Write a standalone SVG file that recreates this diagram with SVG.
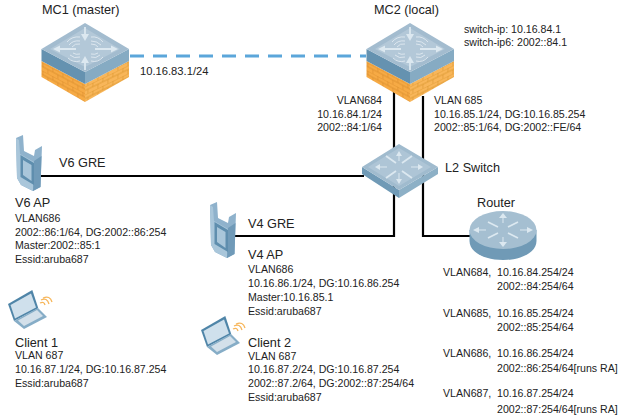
<svg xmlns="http://www.w3.org/2000/svg" width="624" height="419" viewBox="0 0 624 419">
<style>
text{font-family:"Liberation Sans",Arial,sans-serif;fill:#222}
.s{font-size:10.6px}
.t{font-size:12.7px}
.m{font-size:11.2px}
.e{text-anchor:end}
.lk{fill:none;stroke:#000;stroke-width:2.2}
.dash{fill:none;stroke:#5ba6da;stroke-width:3;stroke-dasharray:14 9}
.ar{fill:none;stroke:#dce8f0;stroke-width:1.8}
.ar2{fill:none;stroke:#dce8f0;stroke-width:1}
.ah{fill:#dce8f0}
.arc{fill:none;stroke:#e6eef4;stroke-width:.8}
.wf{fill:none;stroke:#f7b65a;stroke-width:1.3}
.ic{filter:url(#soft)}
</style>
<defs>
<filter id="soft" x="-5%" y="-5%" width="110%" height="110%"><feGaussianBlur stdDeviation=".35"/></filter>
<pattern id="bl" width="10" height="8" patternUnits="userSpaceOnUse" patternTransform="skewY(28)">
<rect width="10" height="8" fill="#f6aa45"/>
<path d="M0 0H10M0 4H10M3 0V4M8 4V8" stroke="#d98b2c" stroke-width=".7" fill="none"/>
</pattern>
<pattern id="br" width="10" height="8" patternUnits="userSpaceOnUse" patternTransform="skewY(-26)">
<rect width="10" height="8" fill="#f8b65a"/>
<path d="M0 0H10M0 4H10M3 0V4M8 4V8" stroke="#d9962f" stroke-width=".7" fill="none"/>
</pattern>
<g id="ctl">
<polygon points="41.500,61 85,84 85,102 41.500,77" fill="url(#bl)"/>
<polygon points="85,84 129,61 129,77 85,102" fill="url(#br)"/>
<polygon points="41.500,49 85,72 85,84 41.500,61" fill="#6592b0"/>
<polygon points="85,72 129,49 129,61 85,84" fill="#86abc3"/>
<polygon points="85,23 129,49 85,72 41.500,49" fill="#a3bccf"/>
<polygon points="85,28 120,49 85,67 50,49" fill="#b3c8d8"/>
<path class="ar" d="M85 27V37M85 70V59M56 49H76M115 49H95"/>
<polygon class="ah" points="85,41 81,34 89,34"/>
<polygon class="ah" points="85,56 81,63 89,63"/>
<polygon class="ah" points="53,49 60,45.500 60,52.500"/>
<polygon class="ah" points="118,49 111,45.500 111,52.500"/>
<path class="arc" d="M67 42Q72 36 80 37M69 45Q73 40 80 41M72 47Q75 43 80 44M103 42Q98 36 91 37M101 45Q97 41 91 41M98 47Q96 44 91 44M68 58Q73 63 80 61M70 55Q74 59 80 57M73 53Q76 55 80 54M103 57Q98 63 91 61M100 55Q96 59 91 57M98 53Q95 55 91 54"/>
</g>
<g id="ap">
<polygon points="0,3 7,0 8,16 18,21 19,15 26,11 24.500,52 17,56 5,50 1,43" fill="#8fb2cc"/>
<polygon points="0,3 3,5 4,19 18,27 18,56 17,56 5,50 1,43" fill="#a9c6da"/>
<polygon points="18,26 25.500,21 24.500,52 17,56" fill="#6f9ab8"/>
<polygon points="4.500,20 18,28 18,50 4.500,42" fill="#5e8eae"/>
<polygon points="7,25 15.500,30 15.500,46 7,40" fill="#a9c6da"/>
</g>
<g id="lap">
<polygon points="8,304 32.300,290 38.300,308.300 14,321" fill="#4f85a8"/>
<polygon points="10.500,305 31,293.500 36,307.500 15,318.500" fill="#cfe0ec"/>
<polygon points="14,321 38,308 47,317 24,329" fill="#86adc7"/>
<polygon points="18,320.500 37,310 43,316 24,326" fill="#d3e0ea"/>
<path class="wf" d="M40 303Q44 301 45 305M41 300Q47 297 49 304M43 298Q50 295 52 302"/>
</g>
</defs>

<g id="connectors">
<path class="dash" d="M130 56H366"/>
<path class="lk" d="M394 92V236H234"/>
<path class="lk" d="M423 96V236H470"/>
<path class="lk" d="M40 176H364"/>
</g>

<g id="mc1">
<use class="ic" href="#ctl"/>
<text class="t" x="42" y="14">MC1 (master)</text>
<text class="m" x="140" y="75">10.16.83.1/24</text>
</g>

<g id="mc2">
<use class="ic" href="#ctl" transform="translate(325,0)"/>
<text class="t" x="374" y="14">MC2 (local)</text>
<text class="s" x="464" y="33">switch-ip: 10.16.84.1</text>
<text class="s" x="464" y="46">switch-ip6: 2002::84.1</text>
<text class="s e" x="382" y="104">VLAN684</text>
<text class="s e" x="382" y="118">10.16.84.1/24</text>
<text class="s e" x="382" y="131">2002::84:1/64</text>
<text class="s" x="434" y="104">VLAN 685</text>
<text class="s" x="434" y="118">10.16.85.1/24, DG:10.16.85.254</text>
<text class="s" x="434" y="131">2002::85:1/64, DG:2002::FE/64</text>
</g>

<g id="l2switch">
<g class="ic">
<polygon points="362,167 399,190 399,198 362,174" fill="#6f9ab6"/>
<polygon points="399,190 438,167 438,174 399,198" fill="#8db0c6"/>
<polygon points="399,144 438,167 399,190 362,167" fill="#a0bbce"/>
<polygon points="399,148 431,167 399,186 368,167" fill="#aec5d6"/>
<path class="ar" d="M386 156L396 163M412 156L402 163M386 178L396 171M412 178L402 171"/>
<path class="ar2" d="M399 155V161M399 173V180M379 167H387M411 167H419"/>
<polygon class="ah" points="399,151 396,156 402,156"/>
<polygon class="ah" points="399,184 396,179 402,179"/>
<polygon class="ah" points="375,167 380,164 380,170"/>
<polygon class="ah" points="423,167 418,164 418,170"/>
</g>
<text class="t" x="445" y="172">L2 Switch</text>
</g>

<g id="router">
<g class="ic">
<path d="M469.500 230V241C469.500 252 484 260 503 260S536.500 252 536.500 241V230Z" fill="#6f9ab6"/>
<ellipse cx="503" cy="230" rx="33.500" ry="19" fill="#a5bfd1"/>
<path class="ar" d="M488 222L498 227M518 222L508 227M488 238L498 233M518 238L508 233"/>
<path class="ar2" d="M503 218V223M503 237V243M478 230H486M520 230H528"/>
<polygon class="ah" points="503,213 499,218 507,218"/>
<polygon class="ah" points="503,247 499,242 507,242"/>
<polygon class="ah" points="473,230 479,227 479,233"/>
<polygon class="ah" points="533,230 527,227 527,233"/>
</g>
<text class="t" x="477" y="207">Router</text>
<text class="s" x="443" y="276">VLAN684,</text><text class="s" x="497" y="276">10.16.84.254/24</text>
<text class="s" x="497" y="290">2002::84:254/64</text>
<text class="s" x="443" y="317">VLAN685,</text><text class="s" x="497" y="317">10.16.85.254/24</text>
<text class="s" x="497" y="331">2002::85:254/64</text>
<text class="s" x="443" y="357">VLAN686,</text><text class="s" x="497" y="357">10.16.86.254/24</text>
<text class="s" x="497" y="372">2002::86:254/64[runs RA]</text>
<text class="s" x="443" y="397">VLAN687,</text><text class="s" x="497" y="397">10.16.87.254/24</text>
<text class="s" x="497" y="413">2002::87:254/64[runs RA]</text>
</g>

<g id="v6ap">
<use class="ic" href="#ap" transform="translate(16,135)"/>
<text class="t" x="59" y="167">V6 GRE</text>
<text class="t" x="15" y="207">V6 AP</text>
<text class="s" x="15" y="222">VLAN686</text>
<text class="s" x="15" y="236">2002::86:1/64, DG:2002::86:254</text>
<text class="s" x="15" y="249">Master:2002::85:1</text>
<text class="s" x="15" y="263">Essid:aruba687</text>
</g>

<g id="v4ap">
<use class="ic" href="#ap" transform="translate(210,202)"/>
<text class="t" x="248" y="228">V4 GRE</text>
<text class="t" x="248" y="259">V4 AP</text>
<text class="s" x="248" y="273">VLAN686</text>
<text class="s" x="248" y="287">10.16.86.1/24, DG:10.16.86.254</text>
<text class="s" x="248" y="301">Master:10.16.85.1</text>
<text class="s" x="248" y="315">Essid:aruba687</text>
</g>

<g id="client1">
<use class="ic" href="#lap"/>
<text class="t" x="15" y="347">Client 1</text>
<text class="s" x="15" y="359">VLAN 687</text>
<text class="s" x="15" y="373">10.16.87.1/24, DG:10.16.87.254</text>
<text class="s" x="15" y="387">Essid:aruba687</text>
</g>

<g id="client2">
<use class="ic" href="#lap" transform="translate(193,26)"/>
<text class="t" x="248" y="347">Client 2</text>
<text class="s" x="248" y="360">VLAN 687</text>
<text class="s" x="248" y="373">10.16.87.2/24, DG:10.16.87.254</text>
<text class="s" x="248" y="387">2002::87.2/64, DG:2002::87:254/64</text>
<text class="s" x="248" y="401">Essid:aruba687</text>
</g>
</svg>
